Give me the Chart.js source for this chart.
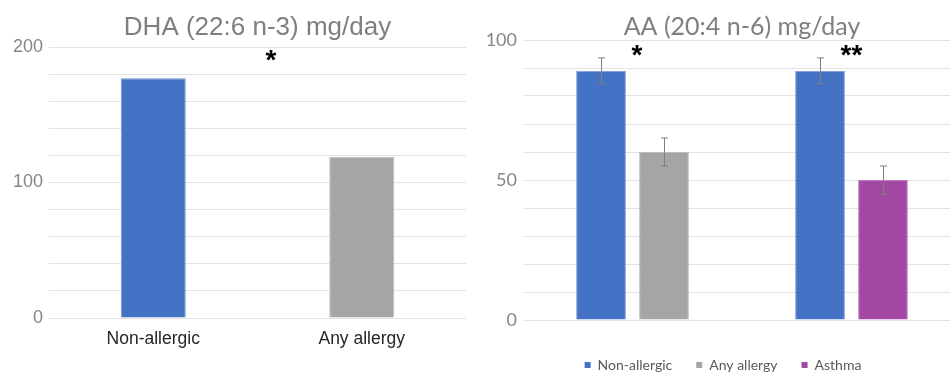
<!DOCTYPE html>
<html>
<head>
<meta charset="utf-8">
<script src="https://cdn.jsdelivr.net/npm/chart.js@4"></script>
<style>
  html, body { margin: 0; padding: 0; background: #fff; }
  #wrap { position: relative; width: 950px; height: 376px; overflow: hidden; }
  #left { position: absolute; left: 0; top: 0; }
  #right { position: absolute; left: 475px; top: 0; }
</style>
</head>
<body>
<div id="wrap">
  <canvas id="left" width="475" height="376"></canvas>
  <canvas id="right" width="500" height="376"></canvas>
</div>
<script>
// ---- Data ----
const dhaTitle = 'DHA (22:6 n-3) mg/day';
const dhaCategories = ['Non-allergic', 'Any allergy'];
const dhaValues = [177, 119];
const dhaTickLabels = [0, 100, 200];

const aaTitle = 'AA (20:4 n-6) mg/day';
const aaCategories = ['Any allergy', 'Asthma'];
const aaSeriesNames = ['Non-allergic', 'Any allergy', 'Asthma'];
const aaNonAllergic = [89, 89];
const aaAnyAllergy = [60, null];
const aaAsthma = [null, 50];
const aaNonAllergicErr = [4.6, 4.6];
const aaAnyAllergyErr = [5, null];
const aaAsthmaErr = [null, 5];
const aaTickLabels = [0, 50, 100];

const dhaStars = [{ text: '*', at: 0.565, value: 194 }];
const aaStars = [{ text: '*', at: 0.02, value: 96.5 }, { text: '**', at: 1.0, value: 96.5 }];

// ---- Colors ----
const BLUE = '#4472C4', GRAY = '#A5A5A5', PURPLE = '#A349A4';
const BLUE_EDGE = '#7D9BD6', GRAY_EDGE = '#BDBDBD', PURPLE_EDGE = '#C07DC1';

// ---- Plugins ----
const errorBars = {
  id: 'errorBars',
  afterDatasetsDraw(chart) {
    const { ctx } = chart;
    const y = chart.scales.y;
    chart.data.datasets.forEach((ds, i) => {
      if (!ds.errors) return;
      const meta = chart.getDatasetMeta(i);
      meta.data.forEach((bar, j) => {
        const v = ds.data[j], e = ds.errors[j];
        if (v == null || e == null) return;
        const x = Math.round(bar.x) + 0.5;
        const t = y.getPixelForValue(v + e), b = y.getPixelForValue(v - e);
        ctx.save();
        ctx.strokeStyle = '#7f7f7f';
        ctx.lineWidth = 1;
        ctx.beginPath();
        ctx.moveTo(x, t); ctx.lineTo(x, b);
        ctx.moveTo(x - 3.5, t); ctx.lineTo(x + 3.5, t);
        ctx.moveTo(x - 3.5, b); ctx.lineTo(x + 3.5, b);
        ctx.stroke();
        ctx.restore();
      });
    });
  }
};

const stars = {
  id: 'stars',
  afterDraw(chart, args, opts) {
    const { ctx } = chart;
    const xs = chart.scales.x, ys = chart.scales.y;
    ctx.save();
    ctx.fillStyle = '#000';
    ctx.font = 'bold 28px "Liberation Sans", Arial, sans-serif';
    ctx.textAlign = 'center';
    ctx.textBaseline = 'middle';
    (opts.items || []).forEach(s => {
      ctx.fillText(s.text, xs.getPixelForValue(s.at), ys.getPixelForValue(s.value) + 6);
    });
    ctx.restore();
  }
};

function fixWidth(w) { return scale => { scale.width = w; }; }
function fixHeight(h) { return scale => { scale.height = h; }; }

// ---- Left chart ----
new Chart(document.getElementById('left'), {
  type: 'bar',
  data: {
    labels: dhaCategories,
    datasets: [{
      data: dhaValues,
      backgroundColor: [BLUE, GRAY],
      borderColor: [BLUE_EDGE, GRAY_EDGE],
      borderWidth: 1,
      categoryPercentage: 1,
      barPercentage: 0.312
    }]
  },
  options: {
    responsive: false,
    animation: false,
    layout: { padding: { left: 0, right: 9, top: 0, bottom: 0 } },
    plugins: {
      legend: { display: false },
      tooltip: { enabled: false },
      title: {
        display: true,
        text: dhaTitle,
        fullSize: false,
        color: '#7f7f7f',
        font: { family: '"Liberation Sans", Arial, sans-serif', size: 26, weight: 'normal' },
        padding: { top: 12, bottom: 3.8 }
      },
      stars: { items: dhaStars }
    },
    scales: {
      x: {
        grid: { display: false },
        border: { display: false },
        ticks: {
          color: '#262626',
          padding: 3,
          font: { family: '"Liberation Sans", Arial, sans-serif', size: 17.5 }
        },
        afterFit: fixHeight(58)
      },
      y: {
        min: 0, max: 200,
        grid: { color: '#e3e3e3', lineWidth: 1, drawTicks: false },
        border: { display: false },
        ticks: {
          stepSize: 20,
          padding: 6,
          color: '#858585',
          font: { family: '"Liberation Sans", Arial, sans-serif', size: 18 },
          callback: v => dhaTickLabels.includes(v) ? String(v) : ''
        },
        afterFit: fixWidth(49)
      }
    }
  },
  plugins: [stars]
});

// ---- Right chart ----
new Chart(document.getElementById('right'), {
  type: 'bar',
  data: {
    labels: aaCategories,
    datasets: [
      { label: aaSeriesNames[0], data: aaNonAllergic, errors: aaNonAllergicErr,
        backgroundColor: BLUE, borderColor: BLUE_EDGE, borderWidth: 1 },
      { label: aaSeriesNames[1], data: aaAnyAllergy, errors: aaAnyAllergyErr,
        backgroundColor: GRAY, borderColor: GRAY_EDGE, borderWidth: 1 },
      { label: aaSeriesNames[2], data: aaAsthma, errors: aaAsthmaErr,
        backgroundColor: PURPLE, borderColor: PURPLE_EDGE, borderWidth: 1 }
    ]
  },
  options: {
    responsive: false,
    animation: false,
    skipNull: true,
    datasets: { bar: { categoryPercentage: 0.575, barPercentage: 0.79, skipNull: true } },
    layout: { padding: { left: 10, right: 14, top: 0, bottom: 0 } },
    plugins: {
      tooltip: { enabled: false },
      title: {
        display: true,
        text: aaTitle,
        fullSize: false,
        color: '#7f7f7f',
        font: { family: 'Lato, sans-serif', size: 25, weight: 'normal' },
        padding: { top: 11.5, bottom: -1.5 }
      },
      legend: {
        display: true,
        position: 'bottom',
        maxHeight: 42,
        labels: {
          boxWidth: 6,
          boxHeight: 6,
          padding: 24,
          color: '#595959',
          font: { family: 'Lato, sans-serif', size: 14 },
          generateLabels: chart => chart.data.datasets.map((ds, i) => ({
            text: ds.label,
            fillStyle: ds.backgroundColor,
            strokeStyle: ds.backgroundColor,
            lineWidth: 0,
            fontColor: '#595959',
            datasetIndex: i
          }))
        }
      },
      stars: { items: aaStars }
    },
    scales: {
      x: {
        grid: { display: false },
        border: { display: false },
        ticks: {
          color: '#404040',
          padding: 4,
          font: { family: 'Lato, sans-serif', size: 17 }
        },
        afterFit: fixHeight(14)
      },
      y: {
        min: 0, max: 100,
        grid: { color: '#e3e3e3', lineWidth: 1, drawTicks: false },
        border: { display: false },
        ticks: {
          stepSize: 10,
          padding: 6,
          color: '#858585',
          font: { family: 'Lato, sans-serif', size: 18 },
          callback: v => aaTickLabels.includes(v) ? String(v) : ''
        },
        afterFit: fixWidth(38)
      }
    }
  },
  plugins: [errorBars, stars]
});
</script>
</body>
</html>
